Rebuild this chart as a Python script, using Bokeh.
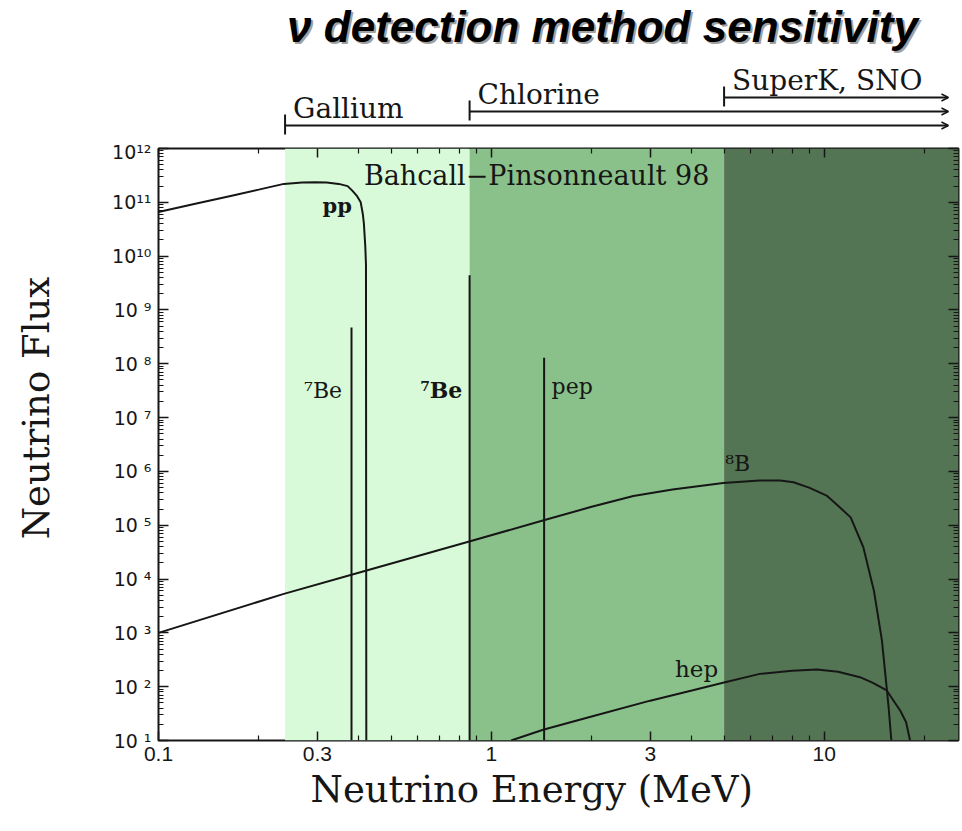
import math
from bokeh.plotting import figure
from bokeh.layouts import column, row
from bokeh.models import Range1d, FixedTicker, LogAxis, Label, Arrow, OpenHead, Title
from bokeh.core.properties import value
from bokeh.embed import file_html
from bokeh.resources import INLINE

# ---------------- data ----------------
x_limits = [0.1, 25.3]
y_limits = [10.0, 1e12]

x_ticks = [0.1, 0.3, 1, 3, 10]
x_tick_labels = ["0.1", "0.3", "1", "3", "10"]
x_minor = [0.2, 0.4, 0.5, 0.6, 0.7, 0.8, 0.9, 2, 4, 5, 6, 7, 8, 9, 20]

y_exponents = list(range(1, 13))
y_tick_labels = ["10 ¹", "10 ²", "10 ³", "10 ⁴", "10 ⁵", "10 ⁶", "10 ⁷", "10 ⁸", "10 ⁹",
                 "10¹⁰", "10¹¹", "10¹²"]

detectors = ["Gallium", "Chlorine", "SuperK, SNO"]
thresholds = [0.24, 0.86, 5.0]
region_colors = ["#d8fad8", "#8ac18a", "#547554"]

pp_energy = [0.1, 0.13, 0.166, 0.2, 0.238, 0.27, 0.296, 0.32, 0.348, 0.37, 0.382,
             0.395, 0.405, 0.411, 0.414, 0.418, 0.42, 0.421]
pp_flux = [6.6e10, 9.5e10, 1.33e11, 1.72e11, 2.2e11, 2.33e11, 2.37e11, 2.33e11, 2.2e11,
           2.0e11, 1.65e11, 1.3e11, 1.0e11, 6e10, 4e10, 1.5e10, 7e9, 10]

line_names = ["⁷Be", "⁷Be", "pep"]
line_energy = [0.38, 0.86, 1.44]
line_flux = [4.7e8, 4.4e9, 1.3e8]

b8_energy = [0.1, 0.238, 0.38, 0.858, 1.445, 2.0, 2.67, 3.5, 4.97, 6.4, 7.37, 8.08, 9.0,
             10.2, 11.0, 12.0, 13.1, 14.1, 14.9, 15.6, 15.9]
b8_flux = [1.0e3, 5.3e3, 1.2e4, 5.0e4, 1.25e5, 2.2e5, 3.5e5, 4.6e5, 6.1e5, 6.8e5, 6.8e5,
           6.3e5, 5.0e5, 3.5e5, 2.3e5, 1.4e5, 3.9e4, 6e3, 720, 42, 10]

hep_energy = [1.146, 1.43, 2.0, 3.0, 4.0, 5.0, 6.4, 8.0, 9.5, 11.0, 12.8, 14.0, 15.4,
              16.9, 17.6, 18.1]
hep_flux = [10, 15.8, 28, 55, 85, 120, 173, 198, 208, 190, 150, 118, 85, 36, 22, 10]

SERIF = "DejaVu Serif"
SANS = "Liberation Sans"
TICKFONT = "DejaVu Sans"
INK = "#161616"

xr = Range1d(*x_limits)

def blank(fig):
    fig.outline_line_color = None
    fig.xgrid.visible = False
    fig.ygrid.visible = False

# ---------------- top strip: title + detector thresholds ----------------
top = figure(width=962, height=140, x_axis_type="log", x_range=xr,
             y_range=Range1d(0, 140), x_axis_location=None, y_axis_location=None,
             output_backend="svg", toolbar_location=None,
             min_border_left=158, min_border_right=4, min_border_top=0, min_border_bottom=0)
blank(top)

title_x, title_y = 444, 90
title_text = "ν detection method sensitivity"
top.add_layout(Label(x=title_x + 2, y=title_y - 2, x_units="screen", y_units="screen",
                     text=title_text, text_align="center",
                     text_font=SANS, text_font_style="bold italic",
                     text_font_size="44px", text_color="#a0a0a0"))
top.add_layout(Label(x=title_x, y=title_y, x_units="screen", y_units="screen",
                     text=title_text, text_align="center",
                     text_font=SANS, text_font_style="bold italic",
                     text_font_size="44px", text_color="#000000"))

arrow_levels = [15, 29, 43]
arrow_end = 23.6
for name, thr, lvl in zip(detectors, thresholds, arrow_levels):
    top.add_layout(Arrow(x_start=thr, y_start=lvl, x_end=arrow_end, y_end=lvl,
                         line_color=INK, line_width=2,
                         end=OpenHead(size=7, line_color=INK, line_width=1.5)))
    top.segment(x0=[thr], y0=[lvl - 9], x1=[thr], y1=[lvl + 11],
                line_color=INK, line_width=2)
    top.text(x=[thr], y=[lvl + 17], text=[name], x_offset=8,
             text_font=value(SERIF), text_font_size="28px", text_color=INK,
             text_baseline="alphabetic", text_align="left")

# ---------------- left strip: y axis title ----------------
ystrip = figure(width=60, height=691, x_range=Range1d(0, 60), y_range=Range1d(0, 691),
                x_axis_location=None, y_axis_location=None,
                output_backend="svg", toolbar_location=None,
                min_border_left=0, min_border_right=0, min_border_top=0, min_border_bottom=0)
blank(ystrip)
ystrip.text(x=[36], y=[388], text=["Neutrino Flux"], angle=math.pi / 2,
            text_font=value(SERIF), text_font_size="37px", text_color=INK,
            text_align="center", text_baseline="middle")

# ---------------- main plot ----------------
p = figure(width=902, height=691, x_axis_type="log", y_axis_type="log",
           x_range=xr, y_range=Range1d(*y_limits),
           output_backend="svg", toolbar_location=None,
           min_border_left=98, min_border_right=4, min_border_top=8, min_border_bottom=91)
p.xgrid.visible = False
p.ygrid.visible = False
p.outline_line_color = INK
p.outline_line_width = 2

# detector sensitivity regions
region_right = thresholds[1:] + [x_limits[1]]
p.quad(left=thresholds, right=region_right, bottom=y_limits[0], top=y_limits[1],
       fill_color=region_colors, line_color=None)

# fluxes
p.line(pp_energy, pp_flux, line_color=INK, line_width=2)
p.line(b8_energy, b8_flux, line_color=INK, line_width=2)
p.line(hep_energy, hep_flux, line_color=INK, line_width=2)
p.segment(x0=line_energy, y0=y_limits[0], x1=line_energy, y1=line_flux,
          line_color=INK, line_width=2)

# axes
y_major = [10.0 ** k for k in y_exponents]
y_minor = [m * 10.0 ** k for k in y_exponents[:-1] for m in range(2, 10)]
xt = FixedTicker(ticks=x_ticks, minor_ticks=x_minor)
yt = FixedTicker(ticks=y_major, minor_ticks=y_minor)

def style_axis(ax, labels=True):
    ax.axis_line_color = None
    ax.major_tick_line_color = INK
    ax.minor_tick_line_color = INK
    ax.major_tick_line_width = 1.5
    ax.minor_tick_line_width = 1.2
    ax.major_tick_out = 0
    ax.minor_tick_out = 0
    if not labels:
        ax.major_label_text_font_size = "1px"
        ax.major_label_text_color = None
        ax.major_label_standoff = 0

xa = p.xaxis[0]
xa.ticker = xt
xa.major_label_overrides = {float(t): s for t, s in zip(x_ticks, x_tick_labels)}
style_axis(xa)
xa.major_tick_in = 9
xa.minor_tick_in = 5
xa.major_label_text_font = SANS
xa.major_label_text_font_size = "21px"
xa.major_label_text_color = INK
xa.major_label_standoff = 6

ya = p.yaxis[0]
ya.ticker = yt
ya.major_label_overrides = {v: s for v, s in zip(y_major, y_tick_labels)}
style_axis(ya)
ya.major_tick_in = 10
ya.minor_tick_in = 5
ya.major_label_text_font = TICKFONT
ya.major_label_text_font_size = "19px"
ya.major_label_text_color = INK
ya.major_label_standoff = 7

xa_top = LogAxis(ticker=xt)
style_axis(xa_top, labels=False)
xa_top.major_tick_in = 9
xa_top.minor_tick_in = 5
p.add_layout(xa_top, "above")

ya_right = LogAxis(ticker=yt)
style_axis(ya_right, labels=False)
ya_right.major_tick_in = 10
ya_right.minor_tick_in = 5
p.add_layout(ya_right, "right")

# x axis title
p.add_layout(Title(text="Neutrino Energy (MeV)", align="left", offset=152, standoff=4,
                   text_font=SERIF, text_font_size="37px", text_font_style="normal",
                   text_color=INK), "below")

# annotations
def note(x, y, text, align="left", size="22px", style="normal", font=SERIF):
    p.add_layout(Label(x=x, y=y, text=text, text_align=align, text_baseline="alphabetic",
                       text_font=font, text_font_size=size, text_font_style=style,
                       text_color=INK))

note(0.414, 3.1e11, "Bahcall−Pinsonneault 98", size="27px")
note(0.381, 8.8e10, "pp", align="right", size="21px", style="bold")
note(0.356, 3.2e7, line_names[0], align="right", size="22px")
note(0.818, 3.2e7, line_names[1], align="right", size="22px", style="bold")
note(1.516, 3.8e7, line_names[2], size="22px")
note(5.04, 1.4e6, "⁸B", size="22px")
note(4.80, 216, "hep", align="right", size="23px")

layout = column(top, row(ystrip, p))
open("out.html", "w").write(file_html(layout, INLINE))
